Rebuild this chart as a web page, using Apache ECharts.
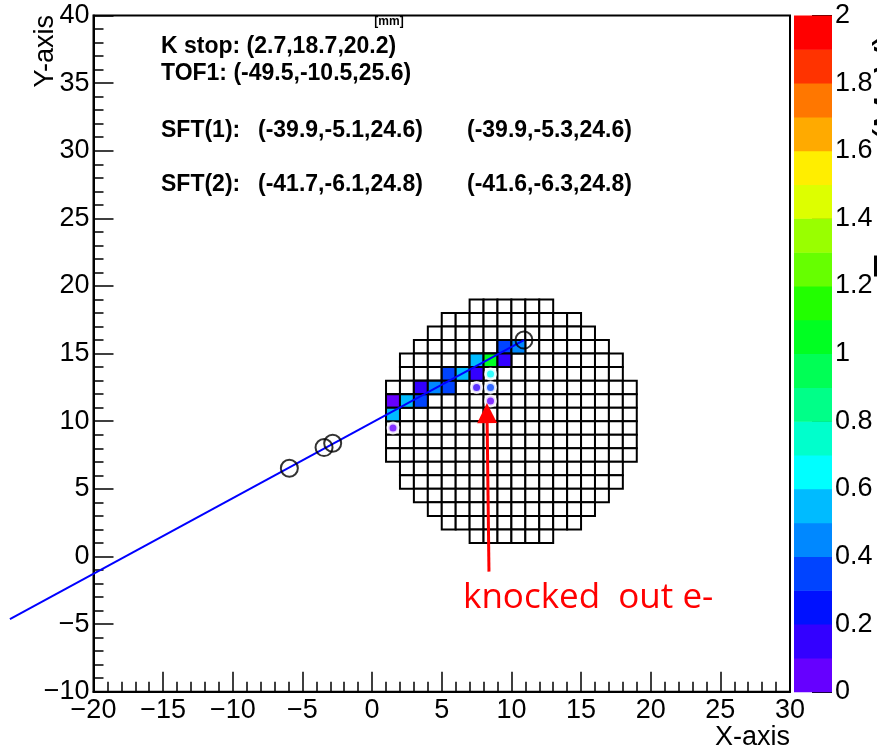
<!DOCTYPE html>
<html>
<head>
<meta charset="utf-8">
<script src="https://cdn.jsdelivr.net/npm/echarts@6/dist/echarts.min.js"></script>
<style>
  html, body { margin: 0; padding: 0; background: #ffffff; }
  #chart { width: 877px; height: 751px; }
</style>
</head>
<body>
<div id="chart"></div>
<script>
// Fibre layer layout: [lower y edge, first x edge, last x edge] of the 1x1 mm cells in each row
const gridRows = [
  [18, 7, 13], [17, 5, 15], [16, 4, 16], [15, 3, 17], [14, 2, 18], [13, 2, 18],
  [12, 1, 19], [11, 1, 19], [10, 1, 19], [9, 1, 19], [8, 1, 19], [7, 1, 19],
  [6, 2, 18], [5, 2, 18], [4, 3, 17], [3, 4, 16], [2, 5, 15], [1, 7, 13]
];

// Cells with deposited energy: [x, y, energy]
const hitCells = [
  [9, 15, 0.35], [10, 15, 0.45],
  [7, 14, 0.55], [8, 14, 1.05], [9, 14, 0.15],
  [5, 13, 0.35], [6, 13, 0.55], [7, 13, 0.15],
  [3, 12, 0.15], [4, 12, 0.45], [5, 12, 0.35],
  [1, 11, 0.05], [2, 11, 0.55], [3, 11, 0.35],
  [1, 10, 0.55]
];

// Secondary hits (knocked out electron): [x, y, energy]
const hitMarkers = [
  [8.5, 13.5, 0.65], [7.5, 12.5, 0.15], [8.5, 12.5, 0.35],
  [8.5, 11.5, 0.05], [1.5, 9.5, 0.05]
];

// Fitted track and the points it was fitted to
const trackLine = [[-26.0, -4.64], [10.9, 16.0]];
const trackPoints = [[10.9, 16.0], [-5.94, 6.52], [-3.45, 8.05], [-2.83, 8.37]];

// Annotation arrow (tail, head)
const arrowEnds = [[8.39, -1.12], [8.25, 10.6]];

// Colour palette, one entry per 0.1 step from 0 to 2
const paletteColors = [
  '#6600ff', '#3300ff', '#0011ff', '#0044ff', '#0088ff',
  '#00bbff', '#00ffff', '#00ffcc', '#00ff88', '#00ff55',
  '#00ff22', '#22ff00', '#66ff00', '#99ff00', '#ddff00',
  '#ffee00', '#ffaa00', '#ff7700', '#ff3300', '#ff0000'
];
const paletteStep = 0.1;
const paletteBands = paletteColors.map((c, i) => [0, i * paletteStep, i]);

const infoLines = [
  'K stop: (2.7,18.7,20.2)',
  'TOF1: (-49.5,-10.5,25.6)'
];
const sftRows = [
  ['SFT(1):', '(-39.9,-5.1,24.6)', '(-39.9,-5.3,24.6)'],
  ['SFT(2):', '(-41.7,-6.1,24.8)', '(-41.6,-6.3,24.8)']
];

function colorOf(v) {
  let i = Math.floor(v / paletteStep);
  if (i < 0) i = 0;
  if (i >= paletteColors.length) i = paletteColors.length - 1;
  return paletteColors[i];
}

const gridCells = [];
gridRows.forEach(([y, x0, x1]) => {
  for (let x = x0; x < x1; x++) gridCells.push([x, y]);
});

const minus = v => String(v).replace('-', '\u2212');
const tickFont = 'Liberation Sans, Arial, sans-serif';
const tickSize = 27;
const boldFont = 'bold 23px Liberation Sans, Arial, sans-serif';

const chart = echarts.init(document.getElementById('chart'), null, { renderer: 'canvas' });

function cellRender(colorFn) {
  return function (params, api) {
    const x = api.value(0), y = api.value(1);
    const p0 = api.coord([x, y + 1]);
    const p1 = api.coord([x + 1, y]);
    return {
      type: 'rect',
      shape: { x: p0[0], y: p0[1], width: p1[0] - p0[0], height: p1[1] - p0[1] },
      style: { fill: colorFn(api), stroke: '#000', lineWidth: 2 }
    };
  };
}

function label(x, y, text, font, align) {
  return { type: 'text', x: x, y: y,
    style: { text: text, font: font, fill: '#000', align: align || 'left', verticalAlign: 'middle' } };
}

const option = {
  animation: false,
  backgroundColor: '#ffffff',
  grid: [
    { left: 93.5, top: 15.5, width: 696.5, height: 676.2, show: true,
      borderColor: '#000', borderWidth: 2, backgroundColor: 'transparent' },
    { left: 794, top: 15.5, width: 38, height: 676.2 }
  ],
  xAxis: [
    { gridIndex: 0, type: 'value', min: -20, max: 30, interval: 5,
      axisLine: { onZero: false, lineStyle: { color: '#000', width: 2 } },
      axisTick: { inside: true, length: 20, lineStyle: { color: '#000', width: 1.5 } },
      minorTick: { show: true, splitNumber: 5, length: 10, lineStyle: { color: '#000', width: 1.5 } },
      splitLine: { show: false },
      axisLabel: { color: '#000', fontFamily: tickFont, fontSize: tickSize, margin: 5, formatter: minus }
    },
    { gridIndex: 1, type: 'value', min: 0, max: 1, show: false }
  ],
  yAxis: [
    { gridIndex: 0, type: 'value', min: -10, max: 40, interval: 5,
      axisLine: { onZero: false, lineStyle: { color: '#000', width: 2 } },
      axisTick: { inside: true, length: 20, lineStyle: { color: '#000', width: 1.5 } },
      minorTick: { show: true, splitNumber: 5, length: 10, lineStyle: { color: '#000', width: 1.5 } },
      splitLine: { show: false },
      axisLabel: { color: '#000', fontFamily: tickFont, fontSize: tickSize, margin: 4, formatter: minus }
    },
    { gridIndex: 1, type: 'value', min: 0, max: 2, interval: 0.2, position: 'right',
      axisLine: { show: false, onZero: false },
      axisTick: { inside: true, length: 20, lineStyle: { color: '#000', width: 2 } },
      splitLine: { show: false },
      axisLabel: { color: '#000', fontFamily: tickFont, fontSize: tickSize, margin: 3,
        formatter: v => String(+v.toFixed(1)) }
    }
  ],
  series: [
    { // fibre grid
      type: 'custom', xAxisIndex: 0, yAxisIndex: 0, data: gridCells, z: 1,
      renderItem: cellRender(() => '#ffffff')
    },
    { // cells with energy
      type: 'custom', xAxisIndex: 0, yAxisIndex: 0, data: hitCells, z: 2,
      renderItem: cellRender(api => colorOf(api.value(2)))
    },
    { // fitted track, allowed to run past the frame
      type: 'custom', xAxisIndex: 0, yAxisIndex: 0, data: [0], z: 3, clip: false,
      renderItem: function (params, api) {
        return {
          type: 'polyline',
          shape: { points: trackLine.map(p => api.coord(p)) },
          style: { stroke: '#0000ff', lineWidth: 2, fill: null }
        };
      }
    },
    { // track points
      type: 'scatter', xAxisIndex: 0, yAxisIndex: 0, data: trackPoints, z: 4,
      symbol: 'circle', symbolSize: 17,
      itemStyle: { color: 'rgba(0,0,0,0)', borderColor: '#000', borderWidth: 2 }
    },
    { // secondary hits
      type: 'scatter', xAxisIndex: 0, yAxisIndex: 0, data: hitMarkers, z: 5,
      symbol: 'circle', symbolSize: 10,
      itemStyle: { color: p => colorOf(p.value[2]), borderColor: '#fff', borderWidth: 3 }
    },
    { // annotation arrow
      type: 'lines', coordinateSystem: 'cartesian2d', xAxisIndex: 0, yAxisIndex: 0, z: 6,
      data: [{ coords: arrowEnds }],
      symbol: ['none', 'triangle'], symbolSize: 20,
      lineStyle: { color: '#ff0000', width: 3, opacity: 1 }
    },
    { // colour scale
      type: 'custom', xAxisIndex: 1, yAxisIndex: 1, data: paletteBands, z: 1,
      renderItem: function (params, api) {
        const lo = api.value(1);
        const p0 = api.coord([0, lo + paletteStep]);
        const p1 = api.coord([1, lo]);
        return {
          type: 'rect',
          shape: { x: p0[0], y: p0[1], width: p1[0] - p0[0], height: p1[1] - p0[1] + 0.5 },
          style: { fill: paletteColors[api.value(2)] }
        };
      }
    }
  ],
  graphic: [
    label(389, 22, '[mm]', 'bold 12px Liberation Sans, Arial, sans-serif', 'center'),
    label(161, 47, infoLines[0], boldFont),
    label(161, 74, infoLines[1], boldFont),
    label(161, 131, sftRows[0][0], boldFont),
    label(258, 131, sftRows[0][1], boldFont),
    label(467, 131, sftRows[0][2], boldFont),
    label(161, 185, sftRows[1][0], boldFont),
    label(258, 185, sftRows[1][1], boldFont),
    label(467, 185, sftRows[1][2], boldFont),
    { type: 'text', x: 463, y: 598, style: { text: 'knocked  out e-', font: '35px Open Sans, sans-serif', fill: '#ff0000', verticalAlign: 'middle' } },
    label(790, 738, 'X-axis', '27px Liberation Sans, Arial, sans-serif', 'right'),
    Object.assign(label(46, 15, 'Y-axis', '27px Liberation Sans, Arial, sans-serif', 'right'), { rotation: Math.PI / 2 }),
    { type: 'text', x: 871, y: 33, rotation: Math.PI / 2, style: { text: 'Energy (MeV)', font: '40px Liberation Sans, Arial, sans-serif', fill: '#000', align: 'right', verticalAlign: 'top' } }
  ]
};

chart.setOption(option);
</script>
</body>
</html>
